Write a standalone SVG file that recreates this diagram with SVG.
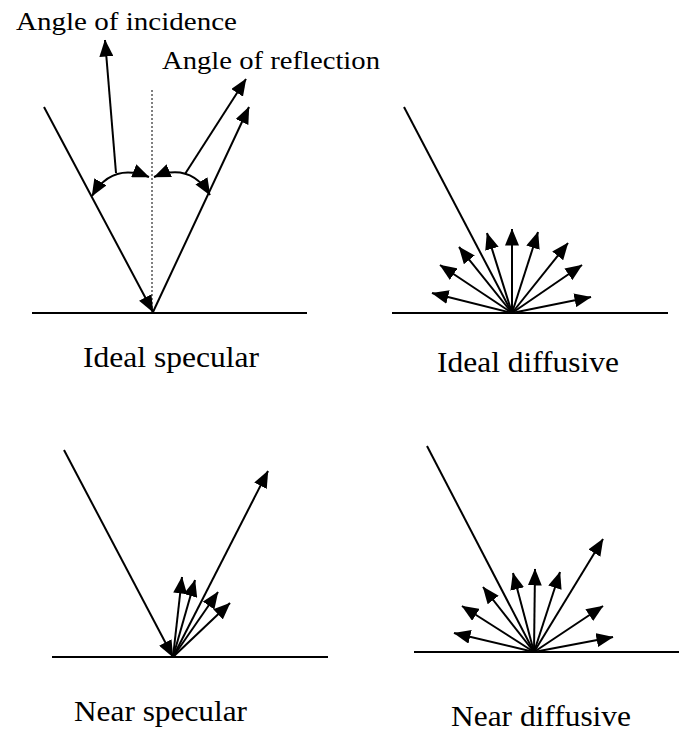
<svg xmlns="http://www.w3.org/2000/svg" width="679" height="731" viewBox="0 0 679 731">
<style>
.ln{stroke:#000;stroke-width:2;fill:none}
.ar{stroke:#000;stroke-width:2;fill:none;marker-end:url(#ah)}
.dt{stroke:#000;stroke-width:1;stroke-dasharray:2,2;fill:none}
.lbl{font-family:"Times New Roman","Liberation Serif",serif;fill:#000}
</style>
<defs>
<marker id="ah" markerUnits="userSpaceOnUse" markerWidth="17" markerHeight="14" viewBox="0 0 17 14" refX="16.5" refY="7" orient="auto-start-reverse">
<path d="M0,0 L17,7 L0,14 z" fill="#000"/>
</marker>
</defs>
<rect width="679" height="731" fill="#fff"/>

<g id="ideal-specular">
<line class="ln" x1="32" y1="313" x2="307" y2="313"/>
<line class="dt" x1="152" y1="90" x2="152" y2="312"/>
<g id="connectors-ideal-specular">
<line class="ar" x1="44" y1="107" x2="153" y2="312"/>
<line class="ar" x1="153" y1="312" x2="249" y2="107"/>
<line class="ar" x1="116" y1="173" x2="105" y2="40"/>
<line class="ar" x1="185" y1="174" x2="246" y2="79"/>
<path class="ar" style="marker-start:url(#ah)" d="M92,196 Q112,162 149,177"/>
<path class="ar" style="marker-start:url(#ah)" d="M154,177 Q190,162 210,195"/>
</g>
<text class="lbl" x="16" y="30" font-size="25.5" textLength="221" lengthAdjust="spacingAndGlyphs">Angle of incidence</text>
<text class="lbl" x="162" y="69" font-size="25.5" textLength="218" lengthAdjust="spacingAndGlyphs">Angle of reflection</text>
<text class="lbl" x="83" y="367" font-size="29.5" textLength="176" lengthAdjust="spacingAndGlyphs">Ideal specular</text>
</g>

<g id="ideal-diffusive">
<line class="ln" x1="392" y1="313" x2="668" y2="313"/>
<g id="connectors-ideal-diffusive">
<line class="ln" x1="404" y1="107" x2="512" y2="313"/>
<line class="ar" x1="512" y1="313" x2="432" y2="293"/>
<line class="ar" x1="512" y1="313" x2="440" y2="265"/>
<line class="ar" x1="512" y1="313" x2="459" y2="247"/>
<line class="ar" x1="512" y1="313" x2="487" y2="233"/>
<line class="ar" x1="512" y1="313" x2="512" y2="229"/>
<line class="ar" x1="512" y1="313" x2="538" y2="232"/>
<line class="ar" x1="512" y1="313" x2="568" y2="243"/>
<line class="ar" x1="512" y1="313" x2="582" y2="265"/>
<line class="ar" x1="512" y1="313" x2="591" y2="297"/>
</g>
<text class="lbl" x="437" y="372" font-size="29.5" textLength="182" lengthAdjust="spacingAndGlyphs">Ideal diffusive</text>
</g>

<g id="near-specular">
<line class="ln" x1="52" y1="657" x2="328" y2="657"/>
<g id="connectors-near-specular">
<line class="ar" x1="64" y1="450" x2="173" y2="657"/>
<line class="ar" x1="173" y1="657" x2="268" y2="471"/>
<line class="ar" x1="173" y1="657" x2="182" y2="577"/>
<line class="ar" x1="173" y1="657" x2="195" y2="580"/>
<line class="ar" x1="173" y1="657" x2="218" y2="592"/>
<line class="ar" x1="173" y1="657" x2="230" y2="603"/>
</g>
<text class="lbl" x="74" y="721" font-size="29.5" textLength="173" lengthAdjust="spacingAndGlyphs">Near specular</text>
</g>

<g id="near-diffusive">
<line class="ln" x1="414" y1="652" x2="679" y2="652"/>
<g id="connectors-near-diffusive">
<line class="ln" x1="427" y1="446" x2="534" y2="652"/>
<line class="ar" x1="534" y1="652" x2="454" y2="633"/>
<line class="ar" x1="534" y1="652" x2="462" y2="606"/>
<line class="ar" x1="534" y1="652" x2="483" y2="587"/>
<line class="ar" x1="534" y1="652" x2="513" y2="573"/>
<line class="ar" x1="534" y1="652" x2="535" y2="569"/>
<line class="ar" x1="534" y1="652" x2="560" y2="572"/>
<line class="ar" x1="534" y1="652" x2="603" y2="539"/>
<line class="ar" x1="534" y1="652" x2="603" y2="606"/>
<line class="ar" x1="534" y1="652" x2="613" y2="637"/>
</g>
<text class="lbl" x="451" y="726" font-size="29.5" textLength="180" lengthAdjust="spacingAndGlyphs">Near diffusive</text>
</g>
</svg>
